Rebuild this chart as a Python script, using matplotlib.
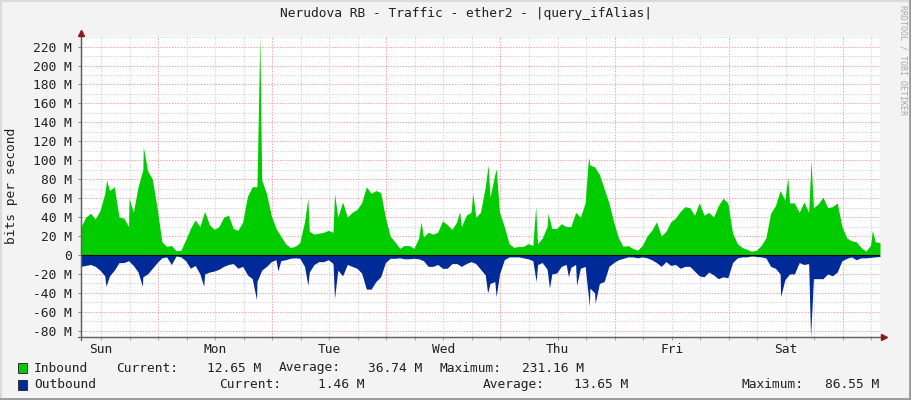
import matplotlib
matplotlib.use("Agg")
import matplotlib.pyplot as plt
from matplotlib.patches import Rectangle
from matplotlib.lines import Line2D
import numpy as np

# ---------------- data (hours from left edge, Sun ~07:48) ----------------
hours = list(range(0, 169))

inbound = [30, 40, 44, 38, 47, 65, 68, 72, 40, 39, 30, 45, 72, 90, 89, 80, 50, 14, 9, 10,
           4.5, 5, 16, 28, 37, 30, 46, 32, 27, 30, 40, 42, 28, 26,
           35, 62, 72, 72, 79, 65, 42, 28, 20, 12, 8, 9, 13, 35, 25, 22, 23, 24, 26, 24,
           40, 56, 40, 45, 48, 55, 72, 65, 68, 66, 40, 20, 14, 7,
           10, 10, 7, 18, 19, 24, 22, 24, 36, 32, 27, 35, 30, 42, 45, 40, 45, 72, 61, 85,
           45, 30, 12, 8, 9, 9, 12, 10, 12, 18, 30, 28, 28,
           33, 30, 30, 45, 40, 55, 95, 93, 85, 70, 55, 35, 18, 9, 10, 7, 5, 10, 20, 26,
           35, 20, 25, 35, 39, 46, 51, 50, 42, 55, 42, 45, 40, 52,
           60, 55, 23, 12, 8, 6, 4, 5, 10, 18, 44, 52, 68, 58, 55, 55, 45, 56, 45, 50,
           54, 61, 50, 51, 55, 30, 18, 15, 14, 8, 4, 10, 14, 13]

outbound = [12, 11, 10, 12, 16, 22, 22, 16, 8, 8, 6, 11, 18, 23, 20, 14, 8, 3, 2, 10,
            1, 2, 6, 14, 11, 20, 20, 18, 17, 15, 12, 10, 9, 14,
            12, 21, 25, 28, 16, 12, 7, 5, 6, 5, 3.5, 3, 3.5, 12, 18, 10, 7, 7, 5, 9,
            16, 22, 10, 12, 14, 19, 36, 36, 28, 23, 8, 3.5, 3.5, 3,
            4, 4, 3.5, 4, 6, 12, 12, 10, 14, 14, 9, 9, 12, 9, 7, 9, 15, 21, 30, 28,
            20, 5, 2, 2, 2, 3, 4, 6, 10, 8, 15, 20, 19,
            12, 10, 13, 10, 14, 12, 35, 40, 30, 28, 12, 8, 5, 3.5, 2, 2, 3, 2, 3, 5,
            8, 12, 7, 11, 10, 14, 12, 12, 17, 22, 23, 18, 21, 25,
            23, 24, 8, 3, 2, 2, 1, 1.5, 2, 3, 12, 14, 20, 26, 20, 20, 8, 10, 9, 25,
            25, 25, 20, 22, 18, 6, 3.5, 2, 5, 3, 3, 2.5, 2, 1.5]

in_spike_t = [5.4, 10.1, 13.1, 37.6, 47.7, 53.3, 71.5, 79.6, 82.4, 85.6, 87.3, 95.6, 98.2,
              106.7, 148.6, 153.5, 166.4]
in_spike_v = [79, 60, 114, 231.16, 60, 65, 35, 46, 65, 95, 91, 51, 44, 103, 82, 100, 26]

out_spike_t = [5.25, 12.9, 25.8, 36.9, 41.4, 47.7, 53.3, 85.5, 87.3, 95.7, 98.5, 102.5,
               104.2, 106.9, 108.1, 147.1, 153.4]
out_spike_v = [33, 33, 33, 47, 17, 32, 46, 40, 44, 28, 35, 23, 32, 54, 51, 44, 86.55]

day_labels = ["Sun", "Mon", "Tue", "Wed", "Thu", "Fri", "Sat"]
start_hour = 7.8  # left edge is Sunday 07:48

title = "Nerudova RB - Traffic - ether2 - |query_ifAlias|"
legend_rows = [
    ("Inbound", "#00CC00", [("Current:", 116), ("12.65 M", 261, "r"), ("Average:", 279),
                            ("36.74 M", 422, "r"), ("Maximum:", 440), ("231.16 M", 584, "r")]),
    ("Outbound", "#002A97", [("Current:", 219), ("1.46 M", 364, "r"), ("Average:", 483),
                             ("13.65 M", 628, "r"), ("Maximum:", 742), ("86.55 M", 879, "r")]),
]


def merge(t, v, st, sv):
    pts = sorted(list(zip(t, v)) + list(zip(st, sv)))
    return np.array([p[0] for p in pts]), np.array([p[1] for p in pts])


tin, vin = merge(hours, inbound, in_spike_t, in_spike_v)
tout, vout = merge(hours, outbound, out_spike_t, out_spike_v)

# ---------------- figure ----------------
W, H = 911, 400
FONT = "DejaVu Sans Mono"
FS = 9.3
fig = plt.figure(figsize=(W / 100, H / 100), dpi=100)
fig.patch.set_facecolor("#F3F3F3")

L, R, T, B = 81, 880, 36, 337
ax = fig.add_axes([L / W, 1 - B / H, (R - L) / W, (B - T) / H])
ax.set_facecolor("white")
ax.set_xlim(0, 168)
ax.set_ylim(-86.55, 231.16)

# grid
for y in range(-80, 231, 10):
    if y == 0:
        continue
    col = "#F2A8A8" if y % 20 == 0 else "#D6D6D6"
    ax.axhline(y, color=col, lw=0.75, ls=(0, (1.4, 1.4)), zorder=0)
six_h = [(k, 24 - start_hour + 6 * k) for k in range(-4, 30)]
six_h = [(k, x) for k, x in six_h if 0 < x < 168]
for k, x in six_h:
    col = "#F2A8A8" if k % 4 == 0 else "#D6D6D6"
    ax.axvline(x, color=col, lw=0.75, ls=(0, (1.4, 1.4)), zorder=0)

ax.fill_between(tin, 0, vin, color="#00CC00", lw=0, zorder=2)
ax.fill_between(tout, 0, -vout, color="#002A97", lw=0, zorder=2)
ax.plot([0, 168], [0, 0], color="black", lw=0.8, zorder=3)

# ticks
yt = list(range(-80, 221, 20))
ax.set_yticks(yt)
ax.set_yticklabels([("0" if v == 0 else f"{v} M") for v in yt], fontfamily=FONT, fontsize=FS,
                   color="#202020")
noon = [12 - start_hour + 24 * k for k in range(7)]
xt = [x for k, x in six_h]
ax.set_xticks(xt)
lab = []
for x in xt:
    m = [i for i, n in enumerate(noon) if abs(n - x) < 1e-6]
    lab.append(day_labels[m[0]] if m else "")
ax.set_xticklabels(lab, fontfamily=FONT, fontsize=FS, color="#202020")
ax.tick_params(axis="y", length=2.5, width=0.7, color="#808080", pad=4)
ax.tick_params(axis="x", length=2.5, width=0.7, color="#A0A0A0", pad=1.5)
for s in ["top", "right"]:
    ax.spines[s].set_visible(False)
for s in ["left", "bottom"]:
    ax.spines[s].set_color("#606060")
    ax.spines[s].set_linewidth(0.9)
ax.spines["left"].set_zorder(4)
ax.spines["bottom"].set_zorder(4)


def px(x, y):
    return x / W, 1 - y / H


# axis extensions and arrows
fig.add_artist(Line2D([px(81, 0)[0]] * 2, [px(0, 340)[1], px(0, 33)[1]], color="#606060", lw=0.9))
fig.add_artist(Line2D([px(78, 0)[0], px(883, 0)[0]], [px(0, 337)[1]] * 2, color="#606060", lw=0.9))
fig.add_artist(Line2D([px(81, 0)[0]], [px(0, 33)[1]], marker="^", ms=4.5, color="#8B1A1A", lw=0))
fig.add_artist(Line2D([px(884, 0)[0]], [px(0, 337)[1]], marker=">", ms=4.5, color="#8B1A1A", lw=0))

# texts
fig.text(*px(466, 14), title, ha="center", va="center", fontfamily=FONT, fontsize=FS,
         color="#202020")
fig.text(*px(12, 186), "bits per second", ha="center", va="center", rotation=90,
         fontfamily=FONT, fontsize=FS, color="#202020")
fig.text(*px(903, 60), "RRDTOOL / TOBI OETIKER", ha="center", va="center", rotation=270,
         fontfamily=FONT, fontsize=6, color="#A8A8A8")

for i, (name, col, items) in enumerate(legend_rows):
    yc = 368 + 16.5 * i
    fig.add_artist(Rectangle(px(18, yc + 5), 9 / W, 10 / H, transform=fig.transFigure,
                             facecolor=col, edgecolor="#303030", lw=0.7))
    fig.text(*px(34, yc), name, ha="left", va="center", fontfamily=FONT, fontsize=FS,
             color="#202020")
    for it in items:
        ha = "right" if len(it) > 2 else "left"
        fig.text(*px(it[1], yc), it[0], ha=ha, va="center", fontfamily=FONT, fontsize=FS,
                 color="#202020")

# 3D-ish border
fig.add_artist(Line2D([0, 1], [1 - 1 / H] * 2, color="#DADADA", lw=1.5))
fig.add_artist(Line2D([1 / W] * 2, [0, 1], color="#DADADA", lw=1.5))
fig.add_artist(Line2D([0, 1], [1.5 / H] * 2, color="#9A9A9A", lw=2))
fig.add_artist(Line2D([1 - 1.5 / W] * 2, [0, 1], color="#9A9A9A", lw=2))

fig.savefig("out.png", dpi=100, facecolor=fig.get_facecolor())
